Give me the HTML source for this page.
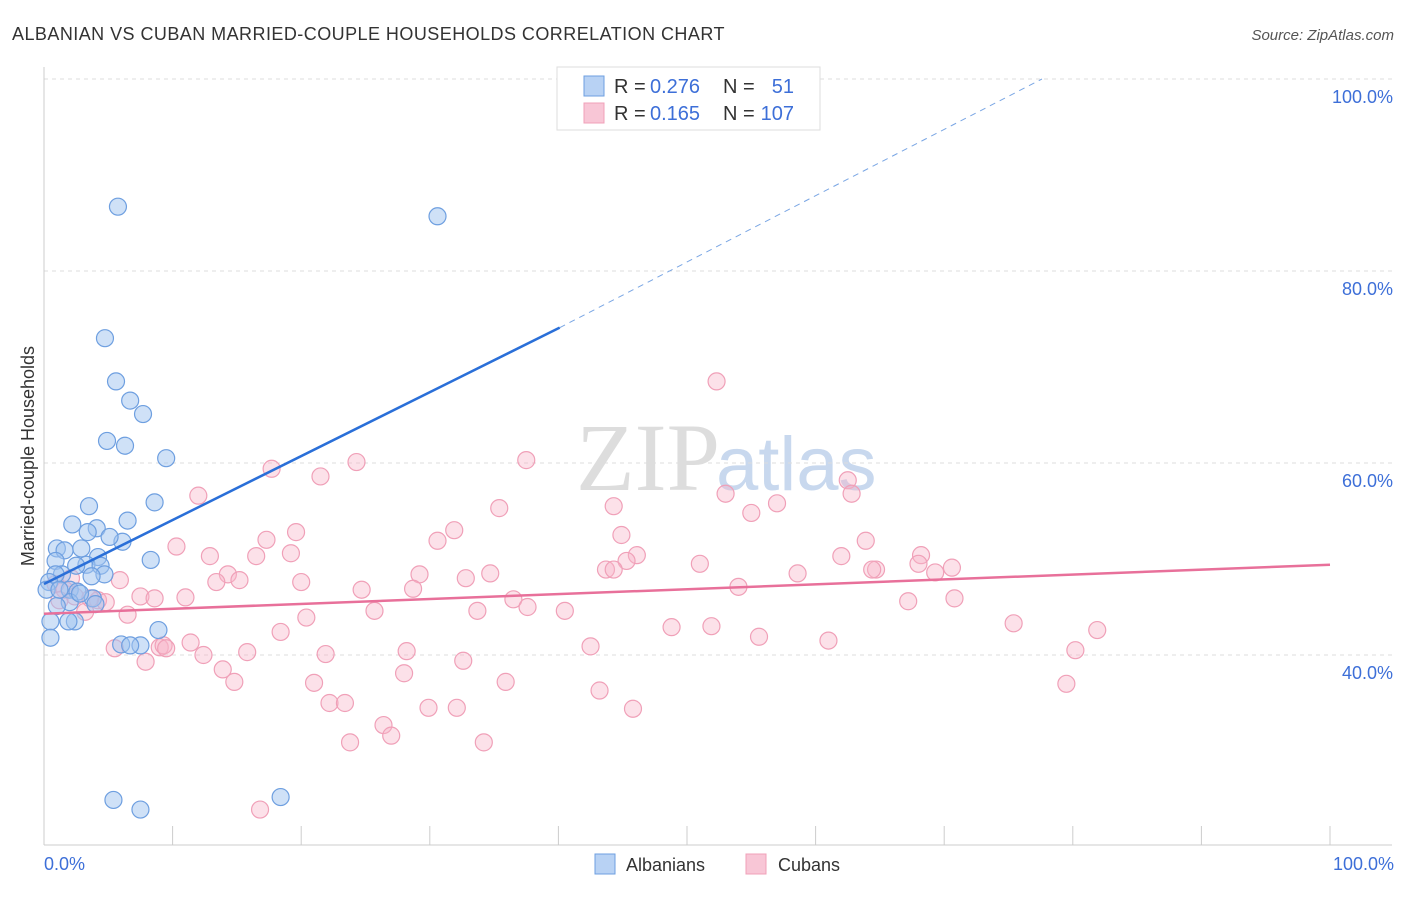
<!DOCTYPE html>
<html><head><meta charset="utf-8"><style>
body{margin:0;background:#fff;font-family:"Liberation Sans",sans-serif}
</style></head><body>
<svg id="c" width="1406" height="892" xmlns="http://www.w3.org/2000/svg" style="font-family:'Liberation Sans',sans-serif">
<text x="12" y="40" font-size="18" fill="#333" letter-spacing="0.45">ALBANIAN VS CUBAN MARRIED-COUPLE HOUSEHOLDS CORRELATION CHART</text>
<text x="1394" y="40" font-size="15" fill="#555" font-style="italic" text-anchor="end">Source: ZipAtlas.com</text>
<text x="720" y="490" font-size="96" fill="#ddd" font-family="Liberation Serif" text-anchor="end">ZIP</text>
<text x="716" y="490" font-size="76" fill="#c8d8ee">atlas</text>
<g id="grid"></g><g id="pts"></g><g id="lines"></g>
<text transform="translate(34,456) rotate(-90)" font-size="18" fill="#333" text-anchor="middle">Married-couple Households</text>
<text x="44" y="870" font-size="18" fill="#3d6fd8">0.0%</text>
<text x="1394" y="870" font-size="18" fill="#3d6fd8" text-anchor="end">100.0%</text>
<g>
<rect x="557" y="67" width="263" height="63" fill="#fff" stroke="#ddd"/>
<rect x="584" y="76" width="20" height="20" fill="#b8d2f4" stroke="#6e9fe0"/>
<rect x="584" y="103" width="20" height="20" fill="#f8c6d6" stroke="#f0a0b8"/>
<text x="614" y="93" font-size="20" fill="#333">R =</text>
<text x="650" y="93" font-size="20" fill="#3d6fd8">0.276</text>
<text x="723" y="93" font-size="20" fill="#333">N =</text>
<text x="794" y="93" font-size="20" fill="#3d6fd8" text-anchor="end">51</text>
<text x="614" y="120" font-size="20" fill="#333">R =</text>
<text x="650" y="120" font-size="20" fill="#3d6fd8">0.165</text>
<text x="723" y="120" font-size="20" fill="#333">N =</text>
<text x="794" y="120" font-size="20" fill="#3d6fd8" text-anchor="end">107</text>
</g>
<g>
<rect x="595" y="854" width="20" height="20" fill="#b8d2f4" stroke="#6e9fe0"/>
<text x="626" y="871" font-size="18" fill="#333">Albanians</text>
<rect x="746" y="854" width="20" height="20" fill="#f8c6d6" stroke="#f0a0b8"/>
<text x="778" y="871" font-size="18" fill="#333">Cubans</text>
</g>
</svg>
<script>
const yTicks=[40,60,80,100];
const yTickLabels=["40.0%","60.0%","80.0%","100.0%"];
const xTicks=[10,20,30,40,50,60,70,80,90,100];
const albX=[5.75,30.6,4.74,5.6,6.7,7.7,4.9,6.3,9.5,3.5,8.6,2.2,6.5,4.1,3.4,1.0,1.6,6.1,5.1,2.9,8.3,4.2,0.9,3.3,2.5,4.4,4.7,3.7,1.4,0.9,0.4,2.0,2.6,3.8,4.0,2.0,1.0,2.4,1.9,0.5,0.5,8.9,6.0,7.5,6.7,5.4,7.5,18.4,0.2,1.2,2.8];
const albY=[86.7,85.7,73.0,68.5,66.5,65.1,62.3,61.8,60.5,55.5,55.9,53.6,54.0,53.2,52.8,51.1,50.9,51.8,52.3,51.1,49.9,50.2,49.8,49.4,49.3,49.3,48.4,48.2,48.4,48.4,47.6,46.8,46.6,45.9,45.3,45.5,45.1,43.5,43.5,43.5,41.8,42.6,41.1,41.0,41.0,24.9,23.9,25.2,46.8,46.8,46.4];
const cubX=[52.3,17.7,21.5,24.3,37.5,12.0,35.4,44.3,53.0,62.5,62.8,57.0,55.0,31.9,44.9,17.3,19.6,10.3,12.9,16.5,19.2,30.6,46.1,45.3,43.7,44.3,51.0,62.0,63.9,68.2,68.0,64.7,64.4,70.6,69.3,58.6,34.7,32.8,29.2,14.3,15.2,13.4,20.0,24.7,28.7,54.0,5.9,2.1,0.9,7.5,8.6,11.0,4.2,4.8,36.5,37.6,40.5,33.7,25.7,20.4,6.5,3.2,70.8,67.2,18.4,48.8,51.9,75.4,81.9,55.6,61.0,42.5,11.4,9.0,9.3,5.5,9.5,15.8,12.4,21.9,28.2,32.6,7.9,13.9,28.0,14.8,21.0,35.9,80.2,79.5,43.2,45.8,22.2,23.4,29.9,32.1,26.4,27.0,23.8,34.2,16.8,1.6,2.4,3.6,1.2];
const cubY=[68.5,59.4,58.6,60.1,60.3,56.6,55.3,55.5,56.8,58.2,56.8,55.8,54.8,53.0,52.5,52.0,52.8,51.3,50.3,50.3,50.6,51.9,50.4,49.8,48.9,48.9,49.5,50.3,51.9,50.4,49.5,48.9,48.9,49.1,48.6,48.5,48.5,48.0,48.4,48.4,47.8,47.6,47.6,46.8,46.9,47.1,47.8,48.0,47.4,46.1,45.9,46.0,45.7,45.5,45.8,45.0,44.6,44.6,44.6,43.9,44.2,44.5,45.9,45.6,42.4,42.9,43.0,43.3,42.6,41.9,41.5,40.9,41.3,40.8,41.0,40.7,40.7,40.3,40.0,40.1,40.4,39.4,39.3,38.5,38.1,37.2,37.1,37.2,40.5,37.0,36.3,34.4,35.0,35.0,34.5,34.5,32.7,31.6,30.9,30.9,23.9,46.8,46.1,45.9,45.7];
const albTrend=[[0,47.4],[40.1,74.1],[77.6,100]];
const cubTrend=[[0,44.3],[100,49.4]];
const NS="http://www.w3.org/2000/svg";
const X=v=>44+v*12.86, Y=v=>655-(v-40)*9.6;
function mk(t,a,p){const e=document.createElementNS(NS,t);for(const k in a)e.setAttribute(k,a[k]);document.getElementById(p).appendChild(e);return e;}
yTicks.forEach((t,i)=>{
 let g=mk('line',{x1:44,x2:1392,y1:Y(t),y2:Y(t),stroke:'#ddd','stroke-dasharray':'4,4'},'grid');
 
 
 let l=mk('text',{x:1393,y:Y(t)+24,'font-size':18,fill:'#3d6fd8','text-anchor':'end'},'grid');
 l.textContent=yTickLabels[i];
 
 
});
let ax=mk('line',{x1:44,x2:1392,y1:845,y2:845,stroke:'#ccc'},'grid');


let ay=mk('line',{x1:44,x2:44,y1:67,y2:845,stroke:'#ccc'},'grid');


xTicks.forEach(t=>{
 let e=mk('line',{x1:X(t),x2:X(t),y1:826,y2:845,stroke:'#ccc'},'grid');
 
 
});
cubX.forEach((x,i)=>{
 let c=mk('circle',{cx:X(x),cy:Y(cubY[i]),r:8.5,fill:'rgba(248,180,200,0.4)',stroke:'#f0a0b8','stroke-width':1.2},'pts');
 
 
});
albX.forEach((x,i)=>{
 let c=mk('circle',{cx:X(x),cy:Y(albY[i]),r:8.5,fill:'rgba(160,196,240,0.5)',stroke:'#6e9fe0','stroke-width':1.2},'pts');
 
 
});
let b1=mk('line',{x1:X(albTrend[0][0]),y1:Y(albTrend[0][1]),x2:X(albTrend[1][0]),y2:Y(albTrend[1][1]),stroke:'#2a6fd8','stroke-width':2.5},'lines');


let b2=mk('line',{x1:X(albTrend[1][0]),y1:Y(albTrend[1][1]),x2:X(albTrend[2][0]),y2:Y(albTrend[2][1]),stroke:'#7aa6e4','stroke-width':1,'stroke-dasharray':'6,5'},'lines');


let p1=mk('line',{x1:X(cubTrend[0][0]),y1:Y(cubTrend[0][1]),x2:X(cubTrend[1][0]),y2:Y(cubTrend[1][1]),stroke:'#e8709a','stroke-width':2.5},'lines');


</script>
</body></html>
